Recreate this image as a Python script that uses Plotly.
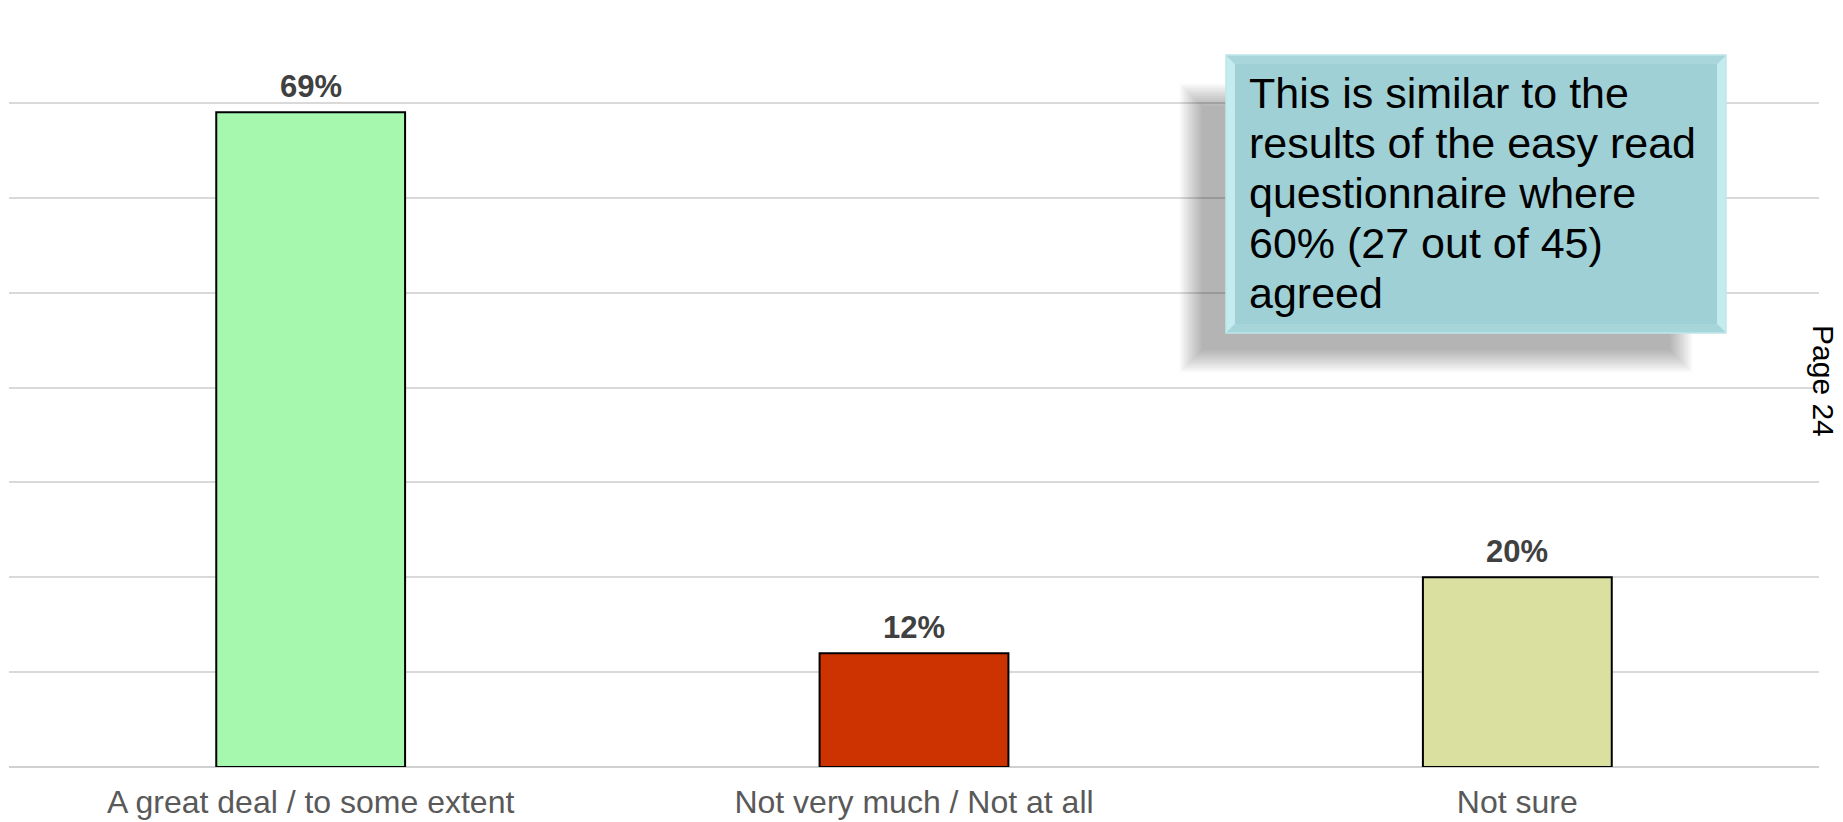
import plotly.graph_objects as go

categories = ["A great deal / to some extent", "Not very much / Not at all", "Not sure"]
values = [69, 12, 20]
value_labels = ["69%", "12%", "20%"]
bar_colors = ["#A7F8AF", "#CC3300", "#DAE0A0"]
callout_lines = ["This is similar to the", "results of the easy read", "questionnaire where",
                 "60% (27 out of 45)", "agreed"]
page_label = "Page 24"

W, H = 1843, 822
L, R, T, B = 9, 24, 8, 55
pw, ph = W - L - R, H - T - B
FONT = "Liberation Sans, Arial, sans-serif"

def px(x):
    return (x - L) / pw

def py(y):
    return (H - B - y) / ph

fig = go.Figure()
fig.add_trace(go.Bar(
    x=categories, y=values,
    marker=dict(color=bar_colors, line=dict(color="#000000", width=2)),
    width=0.313, hoverinfo="skip",
))

for c, v, t in zip(categories, values, value_labels):
    fig.add_annotation(x=c, y=v, text=f"<b>{t}</b>", showarrow=False,
                       yanchor="bottom", yshift=6,
                       font=dict(family=FONT, size=31, color="#404040"))

shapes = []
# soft shadow of the callout (stacked translucent rects to fake a blur)
bx0, bx1, by0, by1 = 1202, 1670, 106, 350
for i in range(12):
    g = 2 * (11 - i)
    shapes.append(dict(type="rect", xref="paper", yref="paper",
                       x0=px(bx0 - g), x1=px(bx1 + g), y0=py(by1 + g), y1=py(by0 - g),
                       line=dict(width=0), fillcolor="rgba(40,40,40,0.032)", layer="above"))
# callout box
cx0, cx1, cy0, cy1 = 1226, 1726, 55, 333
shapes.append(dict(type="rect", xref="paper", yref="paper",
                   x0=px(cx0), x1=px(cx1), y0=py(cy1), y1=py(cy0),
                   line=dict(width=0), fillcolor="#9FD0D6", layer="above"))
bev = 9

def poly(pts):
    return "M " + " L ".join(f"{px(a):.6f},{py(b):.6f}" for a, b in pts) + " Z"

# bevel edges
shapes.append(dict(type="path", xref="paper", yref="paper",
                   path=poly([(cx0, cy0), (cx0 + bev, cy0 + bev), (cx0 + bev, cy1 - bev), (cx0, cy1)]),
                   line=dict(width=0), fillcolor="#C4EBEE", layer="above"))
shapes.append(dict(type="path", xref="paper", yref="paper",
                   path=poly([(cx1, cy0), (cx1 - bev, cy0 + bev), (cx1 - bev, cy1 - bev), (cx1, cy1)]),
                   line=dict(width=0), fillcolor="#C4EBEE", layer="above"))
shapes.append(dict(type="path", xref="paper", yref="paper",
                   path=poly([(cx0, cy0), (cx1, cy0), (cx1 - bev, cy0 + bev), (cx0 + bev, cy0 + bev)]),
                   line=dict(width=0), fillcolor="#A9D6DB", layer="above"))
shapes.append(dict(type="path", xref="paper", yref="paper",
                   path=poly([(cx0, cy1), (cx1, cy1), (cx1 - bev, cy1 - bev), (cx0 + bev, cy1 - bev)]),
                   line=dict(width=0), fillcolor="#A6D5DA", layer="above"))
shapes.append(dict(type="rect", xref="paper", yref="paper",
                   x0=px(cx0), x1=px(cx1), y0=py(cy1), y1=py(cy0),
                   line=dict(color="#BFE6EA", width=1.5), fillcolor="rgba(0,0,0,0)", layer="above"))
fig.update_layout(shapes=shapes)

# callout text, one annotation per line (tighter line spacing than plotly default)
first_baseline, line_step = 108, 50
for i, line in enumerate(callout_lines):
    fig.add_annotation(xref="paper", yref="paper", x=px(1247),
                       y=py(first_baseline + i * line_step - 15),
                       xanchor="left", yanchor="middle", align="left", showarrow=False,
                       text=line, font=dict(family=FONT, size=43, color="#000000"))

fig.add_annotation(xref="paper", yref="paper", x=px(1824), y=py(381),
                   xanchor="center", yanchor="middle", showarrow=False,
                   text=page_label, textangle=90,
                   font=dict(family=FONT, size=30, color="#000000"))

fig.update_layout(
    width=W, height=H,
    margin=dict(l=L, r=R, t=T, b=B, autoexpand=False),
    paper_bgcolor="white", plot_bgcolor="white",
    showlegend=False,
    bargap=0.687,
    xaxis=dict(showgrid=False, showline=False, ticks="", zeroline=False, automargin=False,
               tickfont=dict(family=FONT, size=32, color="#595959"),
               ticklabelstandoff=13),
    yaxis=dict(range=[0, 80], dtick=10, showgrid=True, gridcolor="#D9D9D9", gridwidth=2,
               showticklabels=False, zeroline=True, zerolinecolor="#D0D0D0", zerolinewidth=2,
               showline=False, ticks="", automargin=False),
)

fig.write_html("out.html")
